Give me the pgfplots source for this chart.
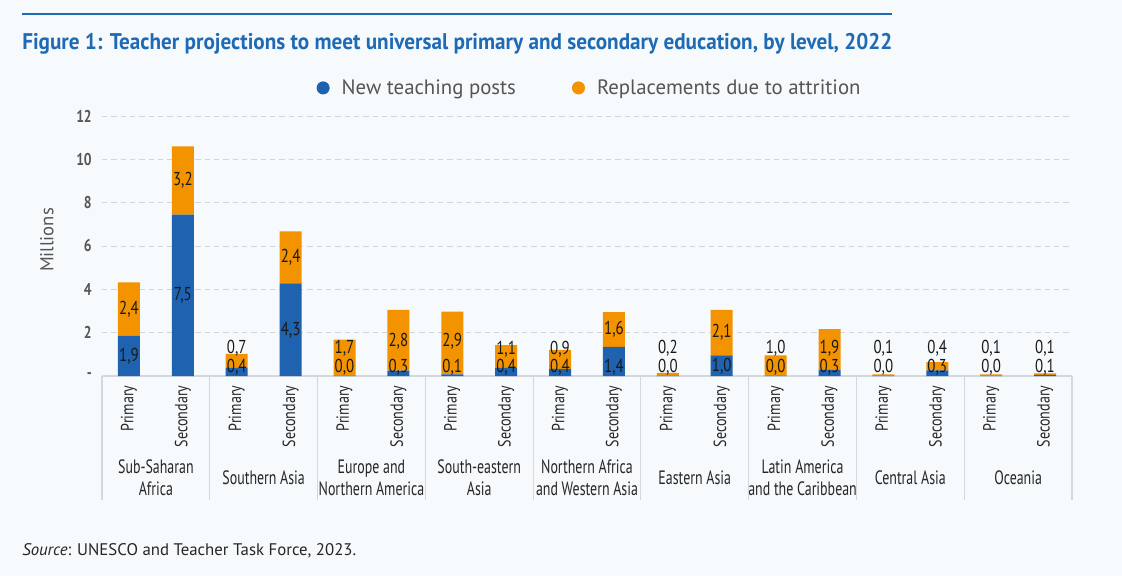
\documentclass[border=0pt]{standalone}
\usepackage{graphicx}
\usepackage{pgfplots}
\pgfplotsset{compat=1.18}
\usepackage{pgfplotstable}
\usepackage{fontspec}
\setmainfont{PT Sans}
\newfontfamily\condA[FakeStretch=0.72]{PT Sans}
\newfontfamily\condB[FakeStretch=0.8]{PT Sans}
\definecolor{cblue}{RGB}{30,98,176}
\definecolor{corange}{RGB}{243,147,0}
\definecolor{ctitle}{RGB}{31,106,180}
\definecolor{bg}{RGB}{246,250,253}
\definecolor{gridc}{RGB}{210,214,218}
\definecolor{boxc}{RGB}{212,216,220}
\definecolor{tickc}{RGB}{85,85,85}
\tikzset{grp/.style={align=center, anchor=center, yshift=-76.5pt, font=\condA\fontsize{14.5}{16.3}\selectfont, text=black!85}}

\pgfplotstableread{
x new repl
0 1.86 2.46
1 7.45 3.15
2 0.37 0.65
3 4.27 2.40
4 0.02 1.66
5 0.25 2.80
6 0.07 2.90
7 0.37 1.06
8 0.33 0.88
9 1.35 1.60
10 0.02 0.12
11 0.95 2.10
12 0.02 0.93
13 0.28 1.88
14 0.02 0.06
15 0.26 0.38
16 0.01 0.07
17 0.05 0.07
}\datatab

\pgfplotstableread{
x y lab
0 0.93 1,9
0 3.09 2,4
1 3.72 7,5
1 9.02 3,2
2 0.40 0,4
2 1.27 0,7
3 2.13 4,3
3 5.47 2,4
4 0.40 0,0
4 1.27 1,7
5 0.40 0,3
5 1.60 2,8
6 0.40 0,1
6 1.60 2,9
7 0.40 0,4
7 1.25 1,1
8 0.40 0,4
8 1.25 0,9
9 0.42 1,4
9 2.18 1,6
10 0.40 0,0
10 1.27 0,2
11 0.45 1,0
11 2.02 2,1
12 0.40 0,0
12 1.27 1,0
13 0.40 0,3
13 1.27 1,9
14 0.40 0,0
14 1.27 0,1
15 0.40 0,3
15 1.27 0,4
16 0.40 0,0
16 1.27 0,1
17 0.40 0,1
17 1.27 0,1
}\labtab

\begin{document}
\begin{tikzpicture}
\fill[bg] (0pt,0pt) rectangle (841.5pt,432pt);
\draw[ctitle, line width=1.5pt] (16.5pt,421.5pt) -- (669pt,421.5pt);
\node[anchor=base west, inner sep=0pt, text=ctitle] at (16.5pt,394.5pt)
  {\resizebox{652.5pt}{\height}{\fontsize{17}{20}\selectfont\condB\bfseries Figure 1: Teacher projections to meet universal primary and secondary education, by level, 2022}};
\node[rotate=90, font=\fontsize{14}{16}\selectfont, text=tickc] at (35.25pt,252pt) {Millions};
\node[anchor=base west, inner sep=0pt, font=\fontsize{12.6}{14}\selectfont, text=black!85] at (16.5pt,15.75pt) {\textit{Source}: UNESCO and Teacher Task Force, 2023.};

\begin{axis}[
  at={(76.5pt,150pt)}, anchor=south west, scale only axis,
  width=727.5pt, height=195pt,
  ybar stacked, bar width=16.5pt,
  xmin=-0.5, xmax=17.5, ymin=0, ymax=12,
  xtick={0,...,17},
  xticklabels={Primary,Secondary,Primary,Secondary,Primary,Secondary,Primary,Secondary,Primary,Secondary,Primary,Secondary,Primary,Secondary,Primary,Secondary,Primary,Secondary},
  ytick={0,2,4,6,8,10,12}, yticklabels={-,2,4,6,8,10,12},
  major tick length=0pt,
  axis x line*=bottom, axis y line*=left,
  x axis line style={draw=boxc, line width=0.8pt, -},
  y axis line style={draw=none},
  ymajorgrids, major grid style={gridc, dash pattern=on 4pt off 3pt, line width=0.6pt},
  xticklabel style={rotate=90, anchor=east, inner sep=0pt, font=\condB\fontsize{13.2}{14}\selectfont, text=black!85},
  xticklabel shift=7pt,
  yticklabel style={anchor=east, inner sep=0pt, font=\condB\bfseries\fontsize{12.8}{14}\selectfont, text=tickc},
  yticklabel shift=7.5pt,
  clip=false,
  legend style={at={(0.503,1.108)}, anchor=center, draw=none, fill=none,
    font=\fontsize{15.6}{18}\selectfont, text=tickc,
    /tikz/every odd column/.append style={column sep=7pt},
    /tikz/every even column/.append style={column sep=40pt}},
  legend columns=2, legend cell align=left,
]
\addplot[fill=cblue, draw=none, legend image code/.code={\fill[cblue] (0pt,0pt) circle (4.9pt);}] table[x=x,y=new]{\datatab};
\addlegendentry{New teaching posts}
\addplot[fill=corange, draw=none, legend image code/.code={\fill[corange] (0pt,0pt) circle (4.9pt);}] table[x=x,y=repl]{\datatab};
\addlegendentry{Replacements due to attrition}
\pgfplotsinvokeforeach{-0.5,1.5,3.5,5.5,7.5,9.5,11.5,13.5,15.5,17.5}{
  \draw[boxc, line width=0.8pt] (axis cs:#1,0) -- ++(0pt,-93pt);
}
\node[grp] at (axis cs:0.5,0) {Sub-Saharan\\Africa};
\node[grp] at (axis cs:2.5,0) {Southern Asia};
\node[grp] at (axis cs:4.5,0) {Europe and\\Northern America};
\node[grp] at (axis cs:6.5,0) {South-eastern\\Asia};
\node[grp] at (axis cs:8.5,0) {Northern Africa\\and Western Asia};
\node[grp] at (axis cs:10.5,0) {Eastern Asia};
\node[grp] at (axis cs:12.5,0) {Latin America\\and the Caribbean};
\node[grp] at (axis cs:14.5,0) {Central Asia};
\node[grp] at (axis cs:16.5,0) {Oceania};
\end{axis}

\begin{axis}[
  at={(76.5pt,150pt)}, anchor=south west, scale only axis,
  width=727.5pt, height=195pt,
  xmin=-0.5, xmax=17.5, ymin=0, ymax=12,
  hide axis, clip=false,
]
\addplot[draw=none, mark=none, nodes near coords, point meta=explicit symbolic,
  nodes near coords style={anchor=center, inner sep=0pt, font=\condB\fontsize{14}{15}\selectfont, text=black!90}]
  table[x=x, y=y, meta=lab]{\labtab};
\end{axis}
\pgfresetboundingbox
\path (0pt,0pt) rectangle (841.5pt,432pt);
\end{tikzpicture}
\end{document}
